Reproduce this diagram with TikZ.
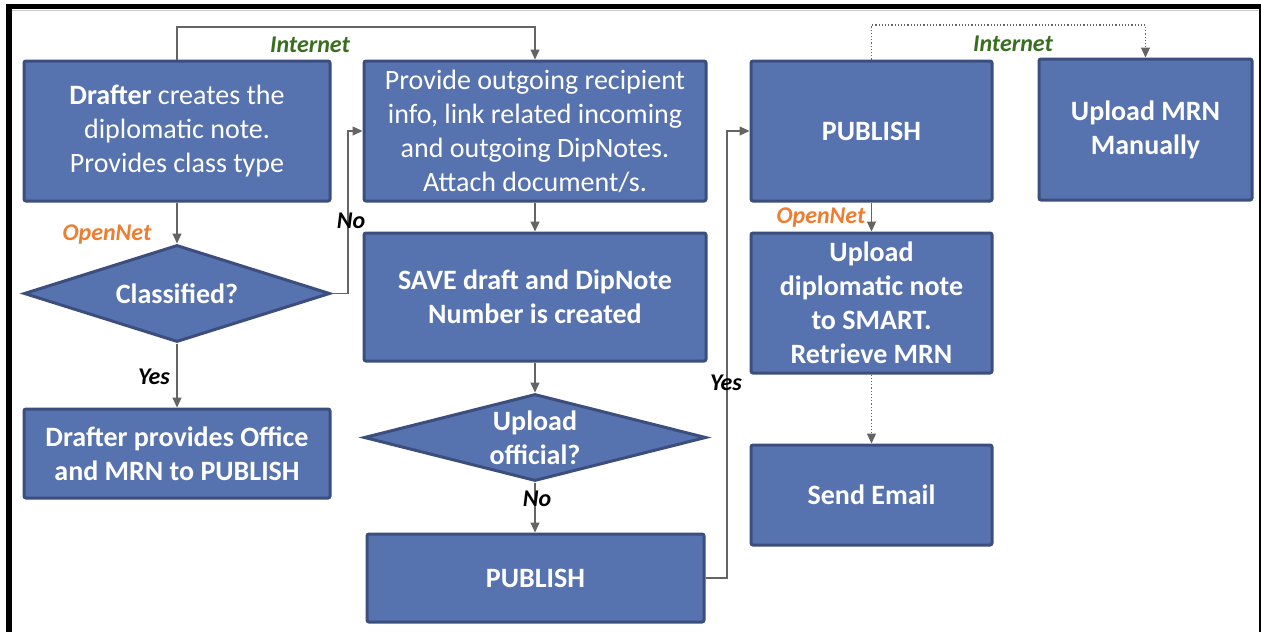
\documentclass[tikz,border=0pt]{standalone}
\usepackage{fontspec}
\setmainfont{Carlito}
\usetikzlibrary{shapes.geometric,arrows.meta}
\definecolor{boxfill}{RGB}{87,115,175}
\definecolor{boxedge}{RGB}{60,78,125}
\definecolor{linegray}{RGB}{100,100,100}
\definecolor{netgreen}{RGB}{56,110,30}
\definecolor{netorange}{RGB}{237,125,49}
\begin{document}
\begin{tikzpicture}[x=1pt,y=-1pt,
  box/.style={draw=boxedge, fill=boxfill, line width=3pt, rounded corners=2pt, text=white, align=center, font=\fontsize{28}{34}\selectfont, inner sep=0pt},
  bbox/.style={box, font=\fontsize{28}{34}\selectfont\bfseries},
  dec/.style={diamond, draw=boxedge, fill=boxfill, line width=3pt, text=white, align=center, font=\fontsize{28}{34}\selectfont\bfseries, inner sep=0pt, aspect=3},
  conn/.style={draw=linegray, line width=1.2pt, -{Triangle[length=10pt,width=9pt]}},
  dotconn/.style={conn, dotted},
  lbl/.style={font=\fontsize{24}{28}\selectfont\bfseries\itshape, inner sep=0pt},
]
\useasboundingbox (0,0) rectangle (1261,632);
\fill[white] (0,0) rectangle (1261,632);
% frame
\fill[black] (6,4) rectangle (12,632);
\fill[black] (6,4) rectangle (1261,9);
\fill[black] (1259,4) rectangle (1261,632);
\draw[black!20, line width=1pt] (12,10.5) -- (1259,10.5);

% nodes
\node[box, minimum width=306pt, minimum height=140pt] (A) at (177,131)
  {\textbf{Drafter} creates the\\diplomatic note.\\Provides class type};
\node[box, minimum width=342pt, minimum height=140pt] (B) at (535,131)
  {Provide outgoing recipient\\info, link related incoming\\and outgoing DipNotes.\\Attach document/s.};
\node[bbox, minimum width=241pt, minimum height=140pt] (C) at (871.5,131) {PUBLISH};
\node[bbox, minimum width=213pt, minimum height=141pt] (D) at (1145.5,129.5) {Upload MRN\\Manually};
\node[dec, minimum width=306pt, minimum height=97pt] (Cls) at (177,293.5) {Classified?};
\node[bbox, minimum width=306pt, minimum height=89pt] (Off) at (177,453.5) {Drafter provides Office\\and MRN to PUBLISH};
\node[bbox, minimum width=342pt, minimum height=128pt] (Save) at (535,297) {SAVE draft and DipNote\\Number is created};
\node[dec, minimum width=342pt, minimum height=87pt] (Upl) at (535,437.5) {Upload\\official?};
\node[bbox, minimum width=337pt, minimum height=88pt] (Pub) at (535.5,578) {PUBLISH};
\node[bbox, minimum width=241pt, minimum height=140pt] (Smart) at (871.5,303) {Upload\\diplomatic note\\to SMART.\\Retrieve MRN};
\node[bbox, minimum width=241pt, minimum height=100pt] (Mail) at (871.5,495) {Send Email};

% waypoints
\coordinate (ia) at (177,27);
\coordinate (nx) at (348,0);
\coordinate (yx) at (727,0);
\coordinate (ib) at (871,25);

% connectors
\draw[conn] (A.north) -- (A.north |- ia) -| (B.north);
\draw[conn] (A.south) -- (Cls.north);
\draw[conn] (Cls.east) -- (Cls.east -| nx) |- (B.west);
\draw[conn] (Cls.south) -- (Off.north);
\draw[conn] (B.south) -- (Save.north);
\draw[conn] (Save.south) -- (Upl.north);
\draw[conn] (Upl.south) -- (Upl.south |- Pub.north);
\draw[conn] (Pub.east) -- (Pub.east -| yx) |- (C.west);
\draw[conn] (C.south) -- (Smart.north);
\draw[dotconn] (C.north) -- (C.north |- ib) -| (D.north);
\draw[dotconn] (Smart.south) -- (Mail.north);

% labels
\node[lbl, text=netgreen] (l1) at (310,45) {Internet};
\node[lbl, text=netorange] (l2) at (107,235) {OpenNet};
\node[lbl] (l3) at (351,221) {No};
\node[lbl] (l4) at (154,377) {Yes};
\node[lbl] (l5) at (537,499) {No};
\node[lbl] (l6) at (726,383) {Yes};
\node[lbl, text=netorange] (l7) at (821,218) {OpenNet};
\node[lbl, text=netgreen] (l8) at (1013,44) {Internet};
\end{tikzpicture}
\end{document}
